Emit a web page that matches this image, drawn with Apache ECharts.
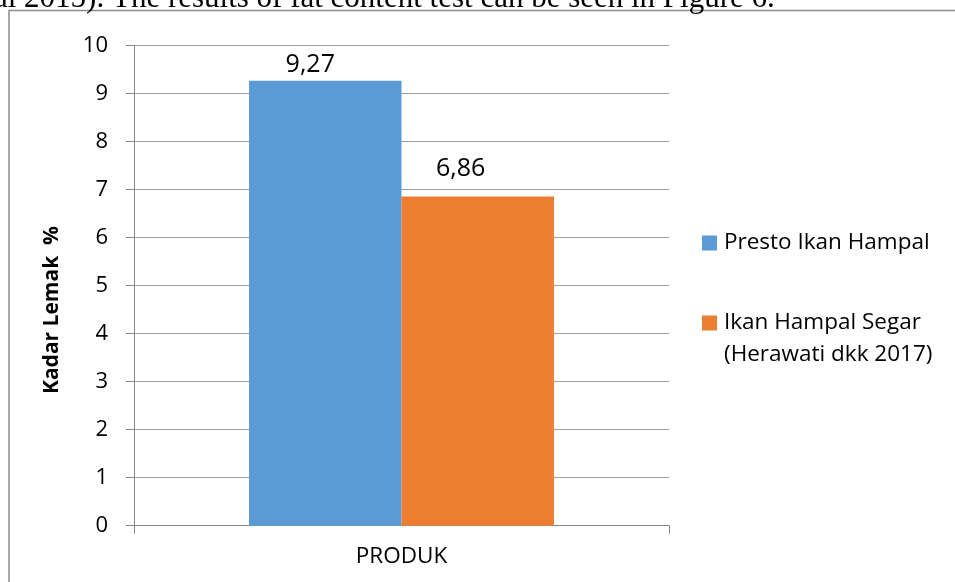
<!DOCTYPE html>
<html>
<head>
<meta charset="utf-8">
<script src="https://cdn.jsdelivr.net/npm/echarts@6/dist/echarts.min.js"></script>
<style>
  html, body { margin: 0; padding: 0; background: #fff; }
  #chart { width: 955px; height: 582px; }
</style>
</head>
<body>
<div id="chart"></div>
<script>
// ---- data ----
var categories = ['PRODUK'];
var seriesNames = ['Presto Ikan Hampal', 'Ikan Hampal Segar\n(Herawati dkk 2017)'];
var prestoValues = [9.27];
var segarValues = [6.86];
var yTicks = [0, 1, 2, 3, 4, 5, 6, 7, 8, 9, 10];
var yAxisTitle = 'Kadar Lemak  %';
var captionText = 'al 2015). The results of fat content test can be seen in Figure 6.';

var FONT = '"Open Sans", Lato, sans-serif';
var chart = echarts.init(document.getElementById('chart'), null, { renderer: 'canvas' });

function fmt(v) { return String(v).replace('.', ','); }

var option = {
  backgroundColor: '#ffffff',
  animation: false,
  textStyle: { fontFamily: FONT },
  grid: { left: 134, right: 286, top: 45.7, bottom: 56.3, containLabel: false },
  legend: [
    {
      data: [seriesNames[0]],
      orient: 'vertical',
      left: 702, top: 227, padding: 0,
      itemWidth: 15, itemHeight: 15,
      icon: 'rect',
      textStyle: { fontFamily: FONT, fontSize: 22.5, color: '#000', lineHeight: 32, padding: [0, 0, 0, 2] }
    },
    {
      data: [seriesNames[1]],
      orient: 'vertical',
      left: 702, top: 275, padding: 0,
      itemWidth: 15, itemHeight: 15,
      icon: 'rect',
      formatter: function (n) { return ' \n' + n; },
      textStyle: { fontFamily: FONT, fontSize: 22.5, color: '#000', lineHeight: 32, padding: [0, 0, 0, 2] }
    }
  ],
  xAxis: {
    type: 'category',
    data: categories,
    axisLine: { show: true, lineStyle: { color: '#868686', width: 1 } },
    axisTick: { show: true, length: 8, alignWithLabel: false, lineStyle: { color: '#868686' } },
    axisLabel: { fontFamily: FONT, fontSize: 22.5, color: '#000', margin: 19 },
    splitLine: { show: false }
  },
  yAxis: {
    type: 'value',
    min: yTicks[0],
    max: yTicks[yTicks.length - 1],
    interval: yTicks[1] - yTicks[0],
    axisLine: { show: true, lineStyle: { color: '#868686', width: 1 } },
    axisTick: { show: true, length: 8, inside: false, lineStyle: { color: '#868686' } },
    axisLabel: { fontFamily: FONT, fontSize: 22, color: '#000', margin: 26 },
    splitLine: { show: true, lineStyle: { color: '#9e9e9e', width: 1 } }
  },
  series: [
    {
      name: seriesNames[0],
      type: 'bar',
      data: prestoValues,
      barGap: '0%',
      barCategoryGap: '43%',
      itemStyle: { color: '#5B9BD5' },
      label: {
        show: true, position: 'top', distance: 3, offset: [-15, 0],
        fontFamily: FONT, fontSize: 25, color: '#000',
        formatter: function (p) { return fmt(p.value); }
      }
    },
    {
      name: seriesNames[1],
      type: 'bar',
      data: segarValues,
      barGap: '0%',
      barCategoryGap: '43%',
      itemStyle: { color: '#ED7D31' },
      label: {
        show: true, position: 'top', distance: 3, offset: [-17, -12],
        fontFamily: FONT, fontSize: 25, color: '#000',
        formatter: function (p) { return fmt(p.value); }
      }
    }
  ],
  graphic: [
    {
      type: 'rect', silent: true, z: -1,
      shape: { x: 9, y: 10.5, width: 1000, height: 700 },
      style: { fill: 'none', stroke: '#8c8c8c', lineWidth: 1.5 }
    },
    {
      type: 'text', silent: true,
      x: -6, y: 14,
      style: { text: captionText, font: '31px "Liberation Serif", "Times New Roman", serif', fill: '#000', verticalAlign: 'bottom', align: 'left' }
    },
    {
      type: 'text', silent: true,
      x: 52.5, y: 310, rotation: Math.PI / 2,
      style: { text: yAxisTitle, font: 'bold 21px ' + FONT, fill: '#000', align: 'center', verticalAlign: 'middle' }
    }
  ]
};
chart.setOption(option);
</script>
</body>
</html>
